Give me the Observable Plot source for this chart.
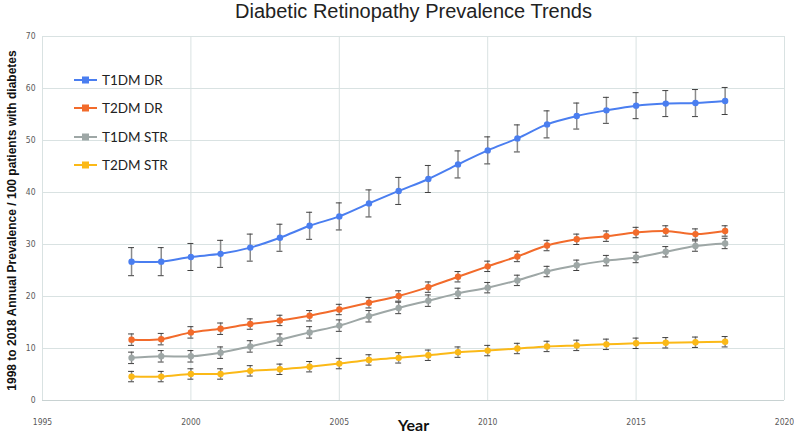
<!DOCTYPE html>
<html>
<head>
<meta charset="utf-8">
<script src="https://cdn.jsdelivr.net/npm/d3@7"></script>
<script src="https://cdn.jsdelivr.net/npm/@observablehq/plot@0.6"></script>
<style>
  body { margin: 0; background: #fff; }
  #wrap { position: relative; width: 794px; height: 440px; }
  #legend { position: absolute; left: 74px; top: 66px; font-family: Lato, "Open Sans", sans-serif; font-size: 13.5px; color: #222; }
  #legend .item { display: flex; align-items: center; height: 28.3px; }
  #legend svg { margin-right: 4px; }
</style>
</head>
<body>
<div id="wrap"><div id="legend"></div></div>
<script>
const years = [1998,1999,2000,2001,2002,2003,2004,2005,2006,2007,2008,2009,2010,2011,2012,2013,2014,2015,2016,2017,2018];
const seriesNames = ["T1DM DR", "T2DM DR", "T1DM STR", "T2DM STR"];
const seriesColors = ["#4a7ef0", "#f26b2b", "#9ea7a6", "#fbb917"];

const t1dmDR   = [26.7,26.7,27.6,28.2,29.4,31.3,33.6,35.4,37.9,40.3,42.6,45.4,48.1,50.4,53.1,54.7,55.8,56.7,57.1,57.2,57.6];
const t1dmDRerr= [2.7,2.7,2.6,2.6,2.6,2.6,2.6,2.6,2.6,2.6,2.6,2.6,2.6,2.6,2.6,2.5,2.5,2.5,2.5,2.6,2.6];
const t2dmDR   = [11.7,11.8,13.1,13.8,14.7,15.4,16.3,17.5,18.8,20.1,21.8,23.8,25.8,27.7,29.8,31.0,31.6,32.3,32.6,32.0,32.6];
const t2dmDRerr= [1.1,1.1,1.1,1.1,1.0,1.0,1.0,1.0,1.0,1.0,1.0,1.0,1.0,1.0,1.0,1.0,1.0,1.0,1.0,1.0,1.0];
const t1dmSTR  = [8.2,8.5,8.5,9.2,10.4,11.7,13.1,14.4,16.2,17.8,19.2,20.6,21.7,23.1,24.8,26.0,26.9,27.5,28.6,29.7,30.2];
const t1dmSTRerr=[1.1,1.1,1.1,1.1,1.1,1.1,1.1,1.1,1.1,1.1,1.1,1.0,1.0,1.0,1.0,1.0,1.0,1.0,1.0,1.0,1.0];
const t2dmSTR  = [4.6,4.6,5.1,5.1,5.7,6.0,6.5,7.1,7.8,8.2,8.7,9.3,9.6,10.0,10.4,10.6,10.8,11.0,11.1,11.2,11.3];
const t2dmSTRerr=[1.0,1.0,1.0,1.0,1.0,1.0,1.0,1.0,1.0,1.0,1.0,1.0,1.0,1.0,1.0,1.0,1.0,1.0,1.0,1.0,1.0];

const xTicks = [1995, 2000, 2005, 2010, 2015, 2020];
const yTicks = [0, 10, 20, 30, 40, 50, 60, 70];
const titleText = "Diabetic Retinopathy Prevalence Trends";
const xLabel = "Year";
const yLabel = "1998 to 2018 Annual Prevalence / 100 patients with diabetes";

const valueSets = [t1dmDR, t2dmDR, t1dmSTR, t2dmSTR];
const errSets = [t1dmDRerr, t2dmDRerr, t1dmSTRerr, t2dmSTRerr];
const data = [];
seriesNames.forEach((s, i) => {
  years.forEach((y, j) => data.push({series: s, year: y, value: valueSets[i][j], err: errSets[i][j]}));
});

const chart = Plot.plot({
  width: 794,
  height: 440,
  marginTop: 36,
  marginBottom: 40,
  marginLeft: 42,
  marginRight: 10,
  style: {fontFamily: "'DejaVu Sans Condensed', 'Liberation Sans', sans-serif", background: "#fff"},
  x: {domain: [1995, 2020], ticks: xTicks, tickFormat: d => String(d), label: null},
  y: {domain: [0, 70], ticks: yTicks, label: null},
  color: {domain: seriesNames, range: seriesColors},
  marks: [
    Plot.gridX(xTicks, {stroke: "#d9e2e2", strokeOpacity: 1}),
    Plot.gridY(yTicks, {stroke: "#d9e2e2", strokeOpacity: 1}),
    Plot.ruleY([0], {stroke: "#c8d2d2"}),
    Plot.axisX(xTicks, {tickSize: 0, tickPadding: 18, fontSize: 8.5, fill: "#595959", label: null, tickFormat: d => String(d)}),
    Plot.axisY(yTicks, {tickSize: 0, tickPadding: 7, fontSize: 8.5, fill: "#595959", label: null}),
    Plot.line(data, {x: "year", y: "value", z: "series", stroke: "series", strokeWidth: 2, curve: "catmull-rom"}),
    Plot.ruleX(data, {x: "year", y1: d => d.value - d.err, y2: d => d.value + d.err, stroke: "#8a8a8a", strokeWidth: 1.5}),
    Plot.ruleY(data, {y: d => d.value + d.err, x1: d => d.year - 0.1, x2: d => d.year + 0.1, stroke: "#404040", strokeWidth: 1}),
    Plot.ruleY(data, {y: d => d.value - d.err, x1: d => d.year - 0.1, x2: d => d.year + 0.1, stroke: "#404040", strokeWidth: 1}),
    Plot.dot(data, {x: "year", y: "value", fill: "series", r: 3.2, stroke: "none"}),
    Plot.text([titleText], {frameAnchor: "top", dy: -33, fontSize: 20, fontFamily: "'Liberation Sans', Arial, sans-serif", fill: "#222"}),
    Plot.text([xLabel], {frameAnchor: "bottom", dy: 30, fontSize: 16, fontWeight: "bold", fontFamily: "Lato, sans-serif", fill: "#111"}),
    Plot.text([yLabel], {frameAnchor: "left", textAnchor: "middle", dx: -30, dy: 2, rotate: -90, fontSize: 12, fontWeight: "bold", fontFamily: "'Liberation Sans', Arial, sans-serif", fill: "#111"})
  ]
});
document.getElementById("wrap").prepend(chart);

const legend = document.getElementById("legend");
seriesNames.forEach((s, i) => {
  const item = document.createElement("div");
  item.className = "item";
  item.innerHTML = `<svg width="24" height="10"><line x1="0" y1="5" x2="23" y2="5" stroke="${seriesColors[i]}" stroke-width="2"/><rect x="8" y="1.5" width="7" height="7" fill="${seriesColors[i]}"/></svg><span>${s}</span>`;
  legend.appendChild(item);
});
</script>
</body>
</html>
